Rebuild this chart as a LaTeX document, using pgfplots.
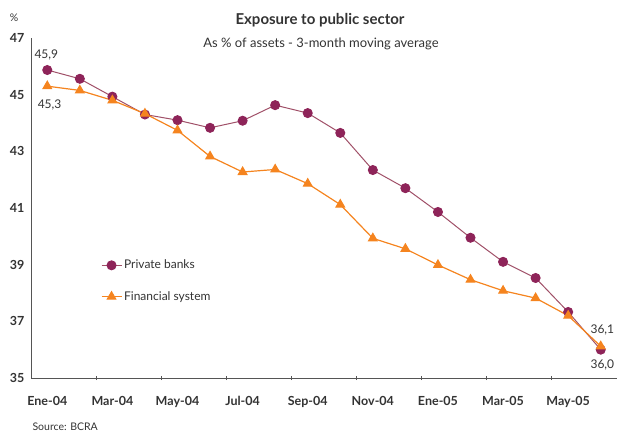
\documentclass[border=0pt]{standalone}
\usepackage{pgfplots}
\pgfplotsset{compat=1.18}
\usepackage{fontspec}
\setmainfont{Lato}
\definecolor{pbline}{HTML}{A05068}
\definecolor{pbmark}{HTML}{8E2459}
\definecolor{fsline}{HTML}{F5841F}
\definecolor{axgray}{HTML}{555555}
\definecolor{txt}{HTML}{333333}
\begin{document}
\begin{tikzpicture}
\path[use as bounding box] (-31pt,-54pt) rectangle (586pt,378pt);
\begin{axis}[
  at={(0pt,0pt)}, anchor=south west,
  scale only axis, width=586pt, height=340pt,
  xmin=-0.5, xmax=17.5, ymin=35, ymax=47,
  axis x line=bottom, axis y line=left,
  axis line style={axgray, line width=1pt, -},
  xtick={1.5,3.5,...,15.5}, xticklabels={},
  major tick length=4pt,
  xtick style={axgray, line width=0.8pt},
  extra x ticks={0,2,4,6,8,10,12,14,16},
  extra x tick labels={Ene-04,Mar-04,May-04,Jul-04,Sep-04,Nov-04,Ene-05,Mar-05,May-05},
  extra x tick style={major tick length=0pt, grid=none},
  ytick={35,37,39,41,43,45,47},
  ytick style={draw=none},
  tick label style={font=\fontsize{12.5}{14}\selectfont\bfseries, text=txt},
  y tick label style={xshift=-1pt},
  x tick label style={yshift=-15pt},
  /pgf/number format/assume math mode=true,
  clip=false,
  legend style={at={(axis cs:1.55,38.99)}, anchor=north west, draw=none, fill=none,
    font=\fontsize{12}{14}\selectfont, text=txt, row sep=17pt, yshift=9pt},
  legend cell align=left,
  legend image code/.code={
    \draw[#1, mark=none] (0pt,0pt) -- (20pt,0pt);
    \path[#1, only marks] plot coordinates {(10pt,0pt)};
  },
]
\addplot[pbline, line width=1pt, mark=*, mark size=4.5pt, mark options={fill=pbmark, draw=pbmark}]
  coordinates {(0,45.87)(1,45.56)(2,44.93)(3,44.30)(4,44.10)(5,43.83)(6,44.08)(7,44.63)(8,44.35)
  (9,43.65)(10,42.34)(11,41.70)(12,40.86)(13,39.95)(14,39.10)(15,38.53)(16,37.33)(17,36.00)};
\addlegendentry{Private banks}
\addplot[fsline, line width=1.2pt, mark=triangle*, mark size=4.8pt, mark options={fill=fsline, draw=fsline}]
  coordinates {(0,45.30)(1,45.15)(2,44.80)(3,44.33)(4,43.74)(5,42.82)(6,42.27)(7,42.36)(8,41.86)
  (9,41.12)(10,39.93)(11,39.56)(12,38.99)(13,38.47)(14,38.08)(15,37.82)(16,37.20)(17,36.12)};
\addlegendentry{Financial system}
\node[anchor=south west, font=\fontsize{12}{14}\selectfont, text=txt] at (axis cs:-0.5,46.1) {45,9};
\node[anchor=north west, font=\fontsize{12}{14}\selectfont, text=txt] at (axis cs:-0.4,44.95) {45,3};
\node[anchor=south, font=\fontsize{12}{14}\selectfont, text=txt] at (axis cs:17.05,36.4) {36,1};
\node[anchor=north, font=\fontsize{12}{14}\selectfont, text=txt] at (axis cs:17.05,35.75) {36,0};
\end{axis}
\node[font=\fontsize{15}{17}\selectfont\bfseries, text=txt] at (289pt,358pt) {Exposure to public sector};
\node[font=\fontsize{13}{15}\selectfont, text=txt] at (290pt,334pt) {As \% of assets - 3-month moving average};
\node[font=\fontsize{10.5}{12}\selectfont, text=txt] at (-17pt,360pt) {\%};
\node[anchor=west, font=\fontsize{10.5}{12}\selectfont, text=txt] at (-2pt,-49pt) {Source: BCRA};
\end{tikzpicture}
\end{document}
